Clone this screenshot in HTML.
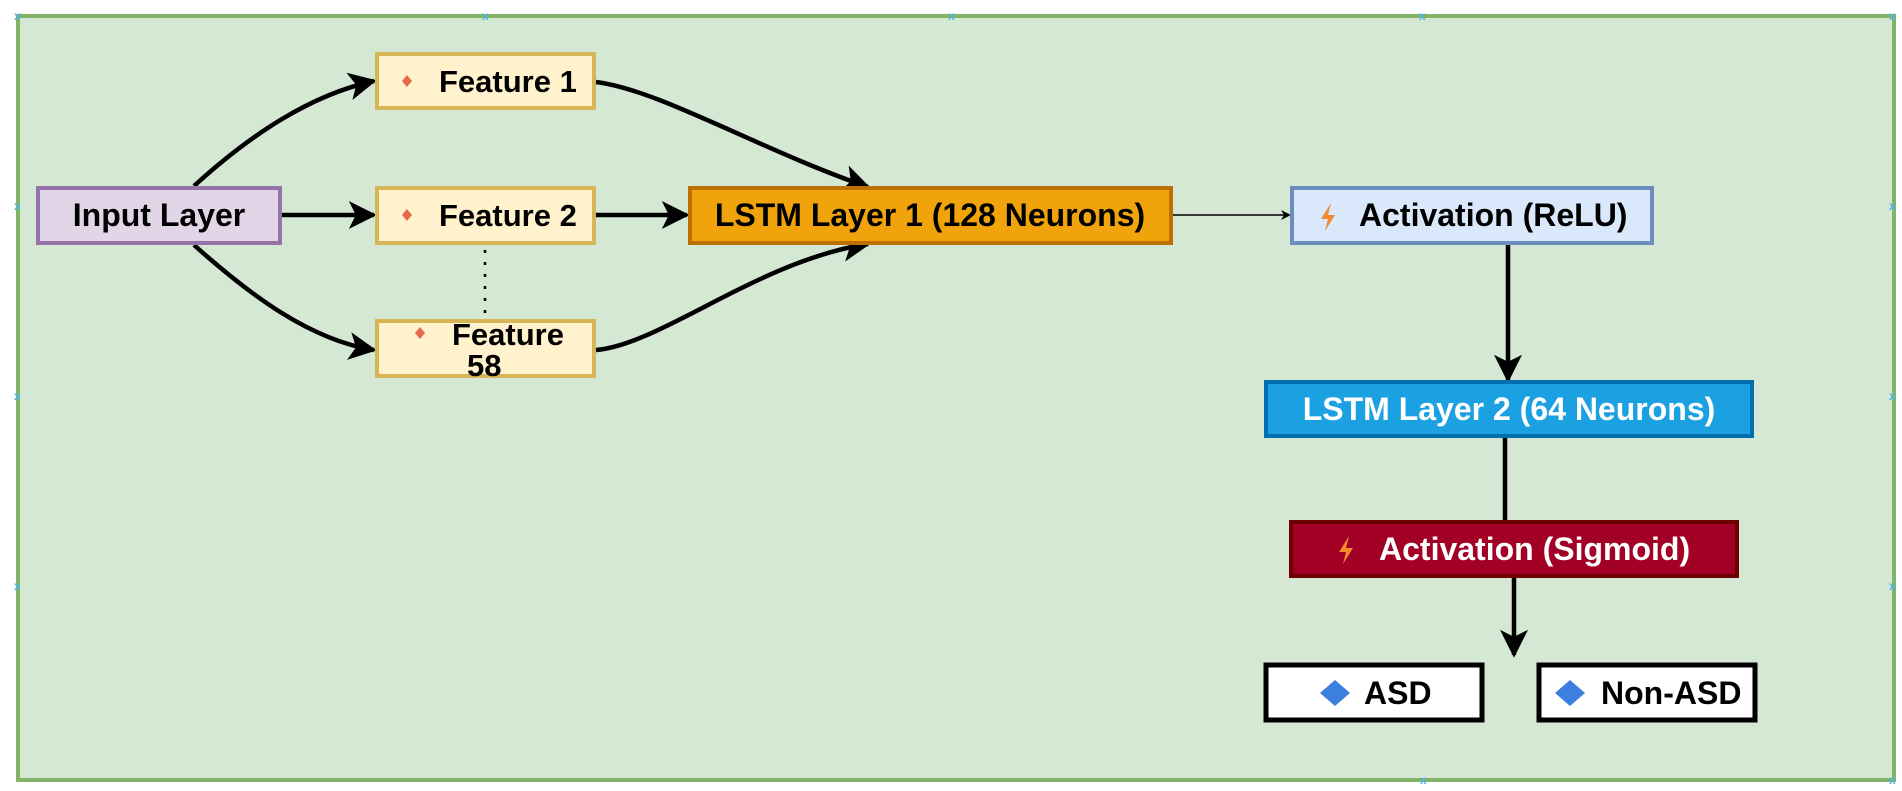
<!DOCTYPE html>
<html><head><meta charset="utf-8"><style>
html,body{margin:0;padding:0;background:#fff;}
svg{display:block;}
text{font-family:"Liberation Sans",sans-serif;font-weight:bold;}
</style></head><body>
<svg width="1902" height="791" viewBox="0 0 1902 791" xmlns="http://www.w3.org/2000/svg">
<defs>
<marker id="ah" markerWidth="10" markerHeight="10" refX="8" refY="5" orient="auto" markerUnits="userSpaceOnUse" viewBox="0 0 10 10">
<path d="M0,0 L10,5 L0,10 L3,5 Z" fill="#000"/></marker>
<marker id="big" viewBox="0 0 10 10" refX="9" refY="5" markerWidth="28" markerHeight="28" orient="auto" markerUnits="userSpaceOnUse">
<path d="M0,0 L10,5 L0,10 L2.5,5 Z" fill="#000"/></marker>
</defs>
<rect x="0" y="0" width="1902" height="791" fill="#fff"/>
<rect x="18" y="16" width="1876" height="764" fill="#d5e8d4" stroke="#82b366" stroke-width="4"/>

<g fill="none" stroke="#000" stroke-width="4.5">
<path d="M194,186 C250,135 310,95 374,81" marker-end="url(#big)"/>
<path d="M194,245 C250,295 310,340 374,350" marker-end="url(#big)"/>
<path d="M282,215 L374,215" marker-end="url(#big)"/>
<path d="M596,215 L687,215" marker-end="url(#big)"/>
<path d="M596,82 C660,90 760,150 868,187" marker-end="url(#big)"/>
<path d="M596,350 C660,345 760,260 868,244" marker-end="url(#big)"/>
<path d="M1508,245 L1508,380" marker-end="url(#big)"/>
<path d="M1505,437 L1505,520"/>
<path d="M1514,578 L1514,655" marker-end="url(#big)"/>
</g>
<path d="M1172,215 L1289,215" stroke="#000" stroke-width="1.5" fill="none" marker-end="url(#ah)"/>
<line x1="485" y1="250" x2="485" y2="321" stroke="#000" stroke-width="2.5" stroke-dasharray="3,9"/>

<rect x="38" y="188" width="242" height="55" fill="#e1d5e7" stroke="#9673a6" stroke-width="4"/>
<text x="159" y="226" font-size="32" text-anchor="middle" fill="#000">Input Layer</text>

<rect x="377" y="54" width="217" height="54" fill="#fff2cc" stroke="#d6b656" stroke-width="4"/>
<path d="M407,75 L412,81 L407,87 L402,81 Z" fill="#e8684a"/>
<text x="439" y="92" font-size="31" fill="#000">Feature 1</text>

<rect x="377" y="188" width="217" height="55" fill="#fff2cc" stroke="#d6b656" stroke-width="4"/>
<path d="M407,209 L412,215 L407,221 L402,215 Z" fill="#e8684a"/>
<text x="439" y="226" font-size="31" fill="#000">Feature 2</text>

<rect x="377" y="321" width="217" height="55" fill="#fff2cc" stroke="#d6b656" stroke-width="4"/>
<path d="M420,327 L425,333 L420,339 L415,333 Z" fill="#e8684a"/>
<text x="452" y="345" font-size="31" fill="#000">Feature</text>
<text x="467" y="376" font-size="31" fill="#000">58</text>

<rect x="690" y="188" width="481" height="55" fill="#f0a30a" stroke="#bd7000" stroke-width="4"/>
<text x="930" y="226" font-size="32" text-anchor="middle" fill="#000">LSTM Layer 1 (128 Neurons)</text>

<rect x="1292" y="188" width="360" height="55" fill="#dae8fc" stroke="#6c8ebf" stroke-width="4"/>
<path d="M1331,203 L1321,219 L1328,219 L1325,231 L1335,215 L1328,215 Z" fill="#f58a2c"/>
<text x="1359" y="226" font-size="32" fill="#000">Activation (ReLU)</text>

<rect x="1266" y="382" width="486" height="54" fill="#1ba1e2" stroke="#006eaf" stroke-width="4"/>
<text x="1509" y="420" font-size="32" text-anchor="middle" fill="#fff">LSTM Layer 2 (64 Neurons)</text>

<rect x="1291" y="522" width="446" height="54" fill="#a20025" stroke="#6f0000" stroke-width="4"/>
<path d="M1349,536 L1339,552 L1346,552 L1343,564 L1353,548 L1346,548 Z" fill="#f58a2c"/>
<text x="1379" y="560" font-size="32" fill="#fff">Activation (Sigmoid)</text>

<rect x="1266" y="665" width="216" height="55" fill="#fff" stroke="#000" stroke-width="5"/>
<path d="M1335,680 L1350,693 L1335,706 L1320,693 Z" fill="#3c7fde"/>
<text x="1364" y="704" font-size="32" fill="#000">ASD</text>

<rect x="1539" y="665" width="216" height="55" fill="#fff" stroke="#000" stroke-width="5"/>
<path d="M1570,680 L1585,693 L1570,706 L1555,693 Z" fill="#3c7fde"/>
<text x="1601" y="704" font-size="32" fill="#000">Non-ASD</text>

<g fill="#4fb3e8" font-size="12" font-weight="normal">
<text x="14" y="20">x</text><text x="482" y="20">x</text><text x="948" y="20">x</text><text x="1419" y="20">x</text><text x="1889" y="20">x</text>
<text x="14" y="210">x</text><text x="1889" y="210">x</text><text x="14" y="400">x</text><text x="1889" y="400">x</text>
<text x="14" y="590">x</text><text x="1889" y="590">x</text><text x="1420" y="784">x</text><text x="1889" y="784">x</text>
</g>
</svg>
</body></html>
